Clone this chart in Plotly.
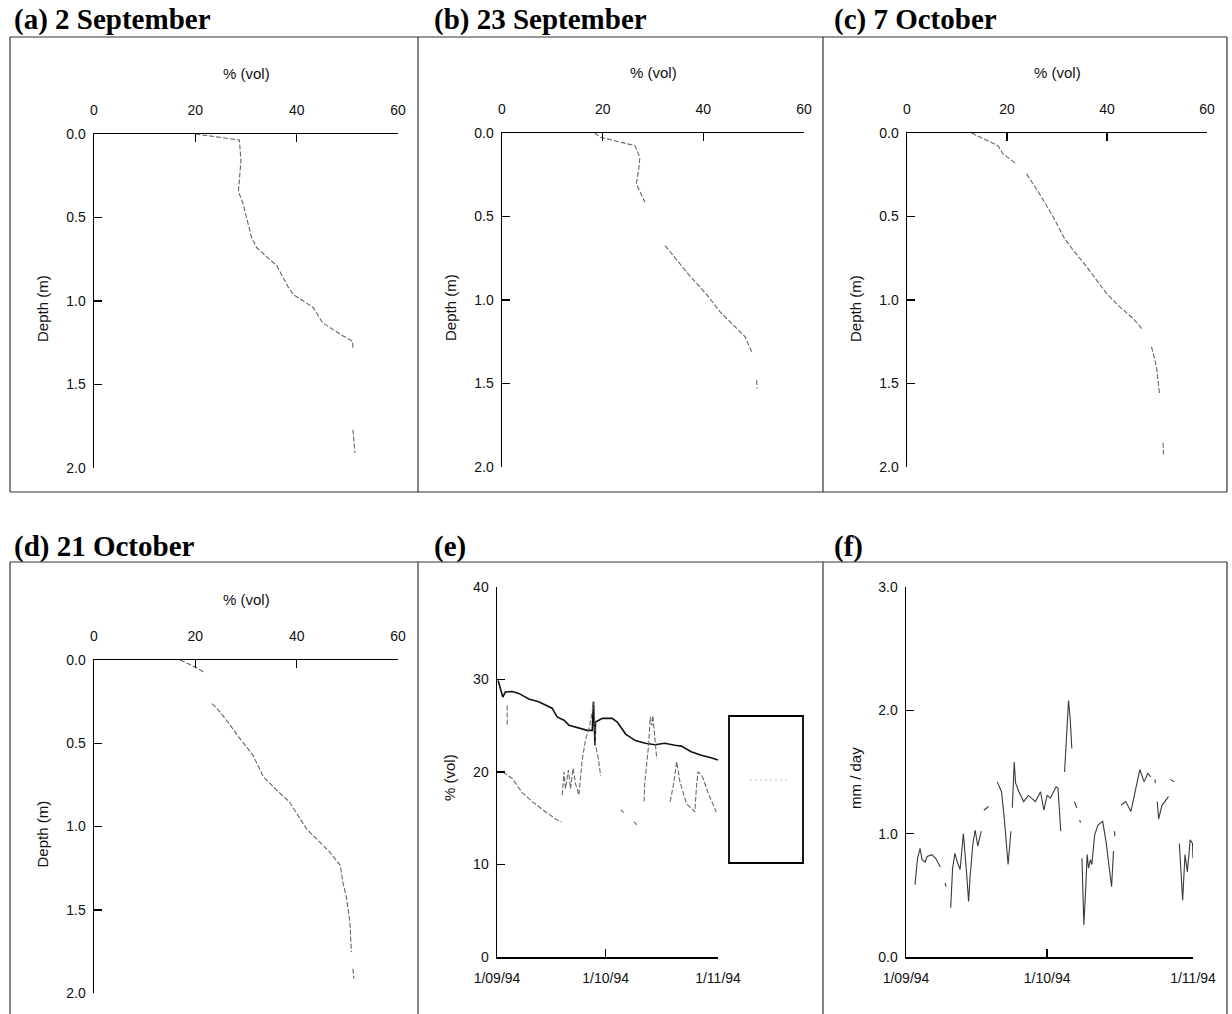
import plotly.graph_objects as go
import pandas as pd

W, H = 1232, 1014

# ---------------- data ----------------
# Soil moisture profiles: depth (m) and volumetric water content (% vol); None = gap in printed line
a_depth = [0.0, 0.036, 0.16, 0.345, 0.415, 0.53, 0.62, 0.68, 0.79, 0.91, 0.96, 1.04, 1.13, 1.21, 1.24, 1.28, None, 1.77, 1.91]
a_vol = [20.0, 28.7, 29.0, 28.5, 29.4, 30.3, 31.1, 32.1, 36.1, 38.2, 39.3, 43.3, 45.1, 49.2, 51.0, 51.1, None, 51.1, 51.5]

b_depth = [0.0, 0.026, 0.076, 0.146, 0.205, 0.305, 0.415, None, 0.674, 0.80, 0.863, 0.92, 0.98, 1.07, 1.22, 1.31, None, 1.48, 1.53]
b_vol = [18.4, 19.6, 26.4, 27.4, 27.2, 26.7, 28.4, None, 32.4, 35.7, 37.5, 39.3, 41.0, 43.3, 48.3, 49.6, None, 50.6, 50.7]

c_depth = [0.0, 0.076, 0.125, 0.185, None, 0.245, 0.364, 0.50, 0.632, 0.70, 0.80, 0.96, 1.04, 1.11, 1.18, None, 1.28, 1.40, 1.56, None, 1.855, 1.925]
c_vol = [12.9, 18.2, 19.2, 21.9, None, 23.9, 26.5, 29.2, 31.5, 33.2, 35.9, 39.9, 42.5, 45.2, 47.2, None, 48.9, 49.9, 50.5, None, 51.2, 51.3]

d_depth = [0.0, 0.032, 0.072, None, 0.262, 0.31, 0.388, 0.46, 0.573, 0.70, 0.78, 0.853, 1.013, 1.153, 1.233, 1.333, 1.423, 1.573, 1.754, None, 1.854, 1.914]
d_vol = [17.0, 19.3, 21.7, None, 23.3, 24.8, 26.8, 28.5, 31.4, 33.4, 36.0, 38.6, 41.9, 46.5, 48.6, 49.1, 49.8, 50.5, 50.8, None, 51.1, 51.3]

# (e) time series, days after 1 Sep 1994
e_upper_day = [0.3, 1.6, 2.3, 4.2, 6.0, 8.8, 11.5, 15.2, 16.6, 18.5, 19.9, 22.2, 24.9, 26.3, 26.6, 27.05, 27.2, 29.1, 31.8, 33.2, 35.5, 38.2, 40.9, 43.6, 46.3, 49.1, 50.9, 53.6, 56.4, 59.1, 61.0]
e_upper_val = [29.9, 28.1, 28.65, 28.7, 28.5, 27.9, 27.6, 26.9, 25.95, 25.6, 25.05, 24.8, 24.5, 24.5, 27.6, 22.9, 25.4, 25.8, 25.8, 25.4, 24.1, 23.4, 23.1, 22.95, 23.1, 22.9, 22.8, 22.2, 21.8, 21.55, 21.3]

e_lower_day = [2.8, 2.8, None,
               1.6, 4.2, 6.9, 9.7, 13.4, 16.6, 17.8, None,
               18.0, 18.5, 18.9, 19.7, 20.3, 21.0, 21.7, 22.6, 23.5, 24.5, 25.4, 26.3, 26.8, 27.2, 28.0, 28.6, None,
               34.1, 35.0, None, 37.8, 38.6, None,
               40.6, 40.75, 41.1, 41.85, 42.3, 42.8, 43.0, 43.5, 44.1, None,
               47.8, 48.7, 49.6, 50.5, 52.3, 53.7, 54.6, 55.1, 55.5, 56.2, 56.9, 58.2, 59.6, 60.5]
e_lower_val = [27.2, 25.0, None,
               20.0, 19.3, 17.8, 16.8, 15.7, 14.8, 14.6, None,
               17.5, 20.0, 18.2, 20.2, 18.2, 20.4, 18.7, 17.5, 21.3, 23.6, 24.7, 26.5, 27.6, 22.9, 21.4, 19.6, None,
               15.9, 15.6, None, 14.6, 14.3, None,
               16.8, 18.6, 20.0, 22.9, 25.95, 25.0, 26.1, 23.6, 21.4, None,
               16.8, 18.6, 21.1, 18.9, 16.6, 16.0, 15.7, 18.6, 20.0, 19.8, 19.3, 17.8, 16.6, 15.7]

# (f) mm/day, days after 1 Sep 1994
f_day = [1.9, 2.45, 3.0, 3.4, 4.1, 4.5, 5.5, 6.3, 7.3, None,
         8.3, 8.5, None,
         9.5, 9.9, 10.4, 10.9, 11.5, 12.2, 12.9, 13.3, 13.6, 14.2, 14.7, 15.25, 16.0, None,
         16.55, 17.55, None,
         19.4, 20.3, 20.9, 21.7, 22.3, None,
         22.6, 23.0, 23.3, 24.0, 25.0, 26.0, 27.5, 28.6, 29.3, 30.0, 30.7, 31.4, 31.9, 32.3, 32.6, 32.9, None,
         33.7, 34.2, 34.55, 34.9, 35.25, None,
         35.8, 36.3, None,
         36.9, 37.1, None,
         37.4, 37.8, 38.2, 38.5, 38.8, 39.2, 39.5, 40.1, 40.8, 41.8, 42.5, 43.2, 43.7, 44.1, None,
         44.3, 44.4, None,
         45.7, 46.7, 47.8, 48.8, 49.7, 50.6, 51.4, 52.0, None,
         52.9, 53.0, None,
         53.4, 53.7, 54.4, 55.1, 55.8, None,
         56.2, 57.0, None,
         58.1, 58.8, 59.3, 59.8, 60.4, 60.9, 61.0]
f_val = [0.585, 0.80, 0.88, 0.79, 0.77, 0.815, 0.83, 0.80, 0.73, None,
         0.60, 0.57, None,
         0.40, 0.72, 0.84, 0.77, 0.71, 1.00, 0.67, 0.45, 0.64, 0.91, 1.03, 0.90, 1.02, None,
         1.19, 1.22, None,
         1.42, 1.34, 1.12, 0.75, 1.02, None,
         1.21, 1.58, 1.41, 1.34, 1.26, 1.31, 1.26, 1.34, 1.19, 1.31, 1.29, 1.34, 1.38, 1.37, 1.15, 1.02, None,
         1.50, 1.85, 2.08, 1.93, 1.69, None,
         1.26, 1.21, None,
         1.11, 1.09, None,
         0.80, 0.26, 0.56, 0.83, 0.72, 0.79, 0.75, 0.99, 1.07, 1.10, 0.94, 0.72, 0.57, 0.86, None,
         1.02, 0.98, None,
         1.23, 1.26, 1.18, 1.37, 1.52, 1.42, 1.49, 1.46, None,
         1.44, 1.41, None,
         1.26, 1.12, 1.23, 1.27, 1.30, None,
         1.44, 1.42, None,
         0.92, 0.46, 0.83, 0.69, 0.95, 0.92, 0.80]

profile_ticks = [0, 20, 40, 60]
depth_ticks = [0.0, 0.5, 1.0, 1.5, 2.0]
depth_ticktext = ["0.0", "0.5", "1.0", "1.5", "2.0"]
e_ticks = [0, 10, 20, 30, 40]
f_ticks = [0.0, 1.0, 2.0, 3.0]
f_ticktext = ["0.0", "1.0", "2.0", "3.0"]
date_ticks = ["1994-09-01", "1994-10-01", "1994-11-01"]
date_ticktext = ["1/09/94", "1/10/94", "1/11/94"]
panel_titles = ["(a) 2 September", "(b) 23 September", "(c) 7 October",
                "(d) 21 October", "(e)", "(f)"]

BASE = pd.Timestamp("1994-09-01")


def to_dates(days):
    return [None if d is None else BASE + pd.Timedelta(days=d) for d in days]


def px(x):
    return x / W


def py(y):
    return 1 - y / H


SANS = "Liberation Sans, Arial, Helvetica, sans-serif"
SERIF = "Liberation Serif, Times New Roman, serif"
TICKFONT = dict(family=SANS, size=14, color="#111")

fig = go.Figure()

prof_line = dict(color="#666", width=1.1, dash="5px,2px")
profiles = [(a_vol, a_depth), (b_vol, b_depth), (c_vol, c_depth), (d_vol, d_depth)]
for i, (v, d) in enumerate(profiles):
    k = "" if i == 0 else str(i + 1)
    fig.add_trace(go.Scatter(x=v, y=d, mode="lines", line=prof_line,
                             xaxis="x" + k, yaxis="y" + k, showlegend=False,
                             connectgaps=False))

fig.add_trace(go.Scatter(x=to_dates(e_upper_day), y=e_upper_val, mode="lines",
                         line=dict(color="#111", width=1.6), xaxis="x5", yaxis="y5",
                         showlegend=False))
fig.add_trace(go.Scatter(x=to_dates(e_lower_day), y=e_lower_val, mode="lines",
                         line=dict(color="#6a6a6a", width=1.1, dash="5px,2px"),
                         xaxis="x5", yaxis="y5", showlegend=False, connectgaps=False))
fig.add_trace(go.Scatter(x=to_dates(f_day), y=f_val, mode="lines",
                         line=dict(color="#3a3a3a", width=1.1), xaxis="x6", yaxis="y6",
                         showlegend=False, connectgaps=False))

# panel geometry in pixels: (x0, x1, ytop, ybottom)
prof_geo = [(94, 398, 134, 468), (502, 804, 133, 467), (907, 1207, 133, 467), (94, 398, 660, 993)]
axis_common = dict(showline=True, linecolor="black", linewidth=1.5, ticks="inside",
                   ticklen=8, tickwidth=1.5, tickcolor="black", showgrid=False,
                   zeroline=False, tickfont=TICKFONT, fixedrange=True, automargin=False)

layout = dict(width=W, height=H, margin=dict(l=0, r=0, t=0, b=0, pad=0, autoexpand=False),
              paper_bgcolor="white", plot_bgcolor="white", showlegend=False,
              template="none")

for i, (x0, x1, yt, yb) in enumerate(prof_geo):
    k = "" if i == 0 else str(i + 1)
    kk = "1" if i == 0 else str(i + 1)
    layout["xaxis" + kk] = dict(axis_common, domain=[px(x0), px(x1)], range=[0, 60],
                                side="top", anchor="y" + k, tickvals=profile_ticks,
                                ticklabelstandoff=12)
    layout["yaxis" + kk] = dict(axis_common, domain=[py(yb), py(yt)], range=[2.0, 0.0],
                                anchor="x" + k, tickvals=depth_ticks,
                                ticktext=depth_ticktext, ticklabelstandoff=4)

layout["xaxis5"] = dict(axis_common, domain=[px(497), px(718)], type="date",
                        range=["1994-09-01", "1994-11-01"], anchor="y5",
                        tickvals=date_ticks, ticktext=date_ticktext, ticklabelstandoff=8)
layout["yaxis5"] = dict(axis_common, domain=[py(957), py(587)], range=[0, 40],
                        anchor="x5", tickvals=e_ticks, ticklabelstandoff=4)
layout["xaxis6"] = dict(axis_common, domain=[px(906), px(1193)], type="date",
                        range=["1994-09-01", "1994-11-01"], anchor="y6",
                        tickvals=date_ticks, ticktext=date_ticktext, ticklabelstandoff=8)
layout["yaxis6"] = dict(axis_common, domain=[py(957), py(587)], range=[0, 3.0],
                        anchor="x6", tickvals=f_ticks, ticktext=f_ticktext,
                        ticklabelstandoff=4)

fig.update_layout(**layout)

# ---------------- annotations ----------------
ann = []
title_pos = [(12, 20), (432, 20), (832, 20), (12, 546), (432, 546), (832, 546)]
for t, (x, y) in zip(panel_titles, title_pos):
    ann.append(dict(x=px(x), y=py(y), xref="paper", yref="paper", text=t,
                    showarrow=False, xanchor="left", yanchor="middle",
                    font=dict(family=SERIF, size=29, color="black", weight="bold")))

lab_font = dict(family=SANS, size=15, color="#111")
for (x0, x1, yt, yb) in prof_geo:
    ann.append(dict(x=px((x0 + x1) / 2), y=py(yt - 61), xref="paper", yref="paper",
                    text="% (vol)", showarrow=False, xanchor="center", yanchor="middle",
                    font=lab_font))
    ann.append(dict(x=px(x0 - 52), y=py((yt + yb) / 2 + 8), xref="paper", yref="paper",
                    text="Depth (m)", showarrow=False, textangle=-90,
                    xanchor="center", yanchor="middle", font=lab_font))
ann.append(dict(x=px(449), y=py(778), xref="paper", yref="paper", text="% (vol)",
                showarrow=False, textangle=-90, xanchor="center", yanchor="middle",
                font=lab_font))
ann.append(dict(x=px(855), y=py(778), xref="paper", yref="paper", text="mm / day",
                showarrow=False, textangle=-90, xanchor="center", yanchor="middle",
                font=lab_font))
fig.update_layout(annotations=ann)

# ---------------- frames & legend box ----------------
shapes = []
frame = dict(color="#333", width=1.2)
for (yt, yb) in [(37, 492), (562, 1016)]:
    shapes.append(dict(type="line", xref="paper", yref="paper",
                       x0=px(10), x1=px(1227), y0=py(yt), y1=py(yt), line=frame))
    if yb < H:
        shapes.append(dict(type="line", xref="paper", yref="paper",
                           x0=px(10), x1=px(1227), y0=py(yb), y1=py(yb), line=frame))
    for xv in [10, 418, 823, 1227]:
        shapes.append(dict(type="line", xref="paper", yref="paper",
                           x0=px(xv), x1=px(xv), y0=py(yt), y1=py(min(yb, H)), line=frame))
# legend box in panel (e)
shapes.append(dict(type="rect", xref="paper", yref="paper",
                   x0=px(729), x1=px(803), y0=py(863), y1=py(716),
                   line=dict(color="black", width=1.8), fillcolor="rgba(0,0,0,0)"))
shapes.append(dict(type="line", xref="paper", yref="paper",
                   x0=px(750), x1=px(790), y0=py(780), y1=py(780),
                   line=dict(color="#bbb", width=1, dash="2px,3px")))
fig.update_layout(shapes=shapes)

fig.write_html("out.html", config={"displayModeBar": False, "staticPlot": True},
               post_script="document.body.style.margin='0px';document.body.style.overflow='hidden';")
